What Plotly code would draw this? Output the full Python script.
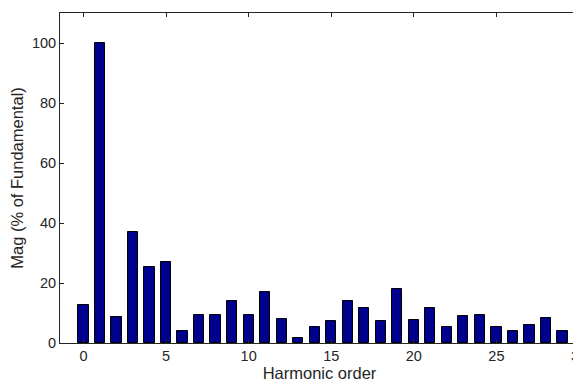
import plotly.graph_objects as go

harmonic_order = list(range(30))
magnitude = [12.8, 100, 8.7, 36.9, 25.5, 26.9, 3.9, 9.3, 9.3, 13.9,
             9.3, 17.1, 8.0, 1.6, 5.2, 7.2, 13.9, 11.7, 7.2, 18.0,
             7.6, 11.7, 5.2, 8.9, 9.3, 5.2, 3.9, 6.1, 8.4, 3.9]
x_ticks = [0, 5, 10, 15, 20, 25, 30]
y_ticks = [0, 20, 40, 60, 80, 100]

font_family = "Liberation Sans, Arial, Helvetica, sans-serif"
text_color = "#262626"

fig = go.Figure()
fig.add_trace(go.Bar(
    x=harmonic_order, y=magnitude, width=0.62,
    marker=dict(color="#00008F", line=dict(color="#000000", width=1)),
))

axis_common = dict(
    showline=True, linecolor="#262626", linewidth=1, mirror="ticks",
    ticks="inside", ticklen=4, tickcolor="#262626",
    showgrid=False, zeroline=False, automargin=False,
    ticklabeloverflow="allow",
    tickfont=dict(family=font_family, size=14.5, color=text_color),
)

# page body has an 8px default margin, so the figure is offset by 8px
fig.update_layout(
    width=573, height=381,
    margin=dict(l=52, r=2, t=5, b=46, autoexpand=False),
    paper_bgcolor="white", plot_bgcolor="white",
    showlegend=False,
    bargap=0,
    xaxis=dict(range=[-1.42, 30.0], tickvals=x_ticks,
               title=dict(text="Harmonic order", standoff=3,
                          font=dict(family=font_family, size=16.5, color=text_color)),
               **axis_common),
    yaxis=dict(range=[0, 110], tickvals=y_ticks,
               title=dict(text="Mag (% of Fundamental)", standoff=7,
                          font=dict(family=font_family, size=16.5, color=text_color)),
               **axis_common),
)

fig.write_html("out.html")
